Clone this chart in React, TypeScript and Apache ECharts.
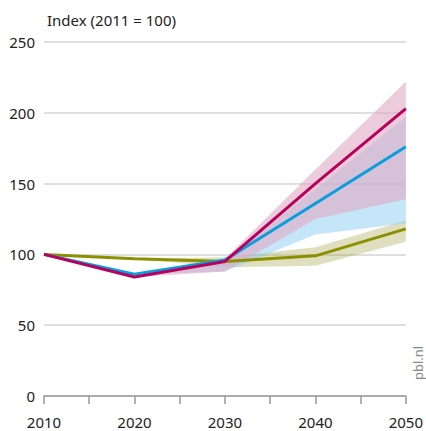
import React, { useEffect, useRef } from "react";
import * as echarts from "echarts";

const years = [2010, 2020, 2030, 2040, 2050];
const bandYears = [2020, 2030, 2040, 2050];

const magentaLine = [100, 84, 95, 150, 203];
const blueLine = [100, 86, 96, 136, 176];
const oliveLine = [100, 97, 95, 99, 118];

const magentaLow = [84, 88, 125, 139];
const magentaHigh = [84, 97, 160, 222];
const blueLow = [86, 88, 114, 122];
const blueHigh = [86, 96, 146, 197];
const oliveLow = [97, 91, 92, 109];
const oliveHigh = [97, 98, 105, 124];

const yTicks = [0, 50, 100, 150, 200, 250];
const xLabels = [2010, 2020, 2030, 2040, 2050];

const FONT = "'Noto Sans', sans-serif";

function band(name: string, low: number[], high: number[], color: string, z: number) {
  return {
    name: name + "-band",
    type: "custom",
    silent: true,
    z,
    clip: false,
    data: bandYears.map((y, i) => [y, low[i], high[i]]),
    encode: { x: 0, y: [1, 2] },
    renderItem: (params: any, api: any) => {
      if (params.dataIndex !== 0) return null;
      const upper = bandYears.map((y, i) => api.coord([y, high[i]]));
      const lower = bandYears.map((y, i) => api.coord([y, low[i]])).reverse();
      return {
        type: "polygon",
        shape: { points: upper.concat(lower) },
        style: { fill: color, stroke: "none" },
      };
    },
  };
}

function line(name: string, vals: number[], color: string, z: number) {
  return {
    name,
    type: "line",
    data: years.map((y, i) => [y, vals[i]]),
    lineStyle: { color, width: 3 },
    itemStyle: { color },
    symbol: "none",
    z,
  };
}

export default function App() {
  const ref = useRef<HTMLDivElement>(null);
  useEffect(() => {
    if (!ref.current) return;
    document.body.style.margin = "0";
    const chart = echarts.init(ref.current, undefined, { renderer: "svg" });
    chart.setOption({
      animation: false,
      title: {
        text: "Index (2011 = 100)",
        left: 42,
        top: 7,
        textStyle: { fontFamily: FONT, fontSize: 15, fontWeight: "normal", color: "#222" },
      },
      grid: { left: 44, right: 20, top: 42, bottom: 35, containLabel: false },
      xAxis: {
        type: "value",
        min: 2010,
        max: 2050,
        interval: 5,
        axisLine: { show: true, lineStyle: { color: "#999", width: 1.5 } },
        axisTick: { show: true, length: 8, lineStyle: { color: "#999", width: 1.5 } },
        splitLine: { show: false },
        axisLabel: {
          margin: 18,
          fontFamily: FONT,
          fontSize: 15,
          color: "#222",
          showMaxLabel: true,
          formatter: (v: number) => (xLabels.includes(v) ? String(v) : ""),
        },
      },
      yAxis: {
        type: "value",
        min: 0,
        max: 250,
        interval: 50,
        axisLine: { show: false },
        axisTick: { show: false },
        splitLine: { show: true, lineStyle: { color: "#d4d4d4", width: 1.5 } },
        axisLabel: {
          margin: 9,
          fontFamily: FONT,
          fontSize: 15,
          color: "#222",
          formatter: (v: number) => (yTicks.includes(v) ? String(v) : ""),
        },
      },
      graphic: [
        {
          type: "text",
          x: 424,
          y: 363,
          rotation: Math.PI / 2,
          style: {
            text: "pbl.nl",
            fontFamily: FONT,
            fontSize: 13,
            fill: "#8a8a8a",
            textAlign: "center",
            textVerticalAlign: "bottom",
          },
        },
      ],
      series: [
        band("olive", oliveLow, oliveHigh, "rgba(170,170,90,0.38)", 1),
        band("blue", blueLow, blueHigh, "rgba(140,205,242,0.5)", 2),
        band("magenta", magentaLow, magentaHigh, "rgba(224,168,195,0.6)", 3),
        line("olive", oliveLine, "#8c9000", 5),
        line("blue", blueLine, "#0a9fdc", 6),
        line("magenta", magentaLine, "#b8005f", 7),
      ],
    });
    return () => chart.dispose();
  }, []);
  return <div ref={ref} style={{ width: 426, height: 431 }} />;
}
